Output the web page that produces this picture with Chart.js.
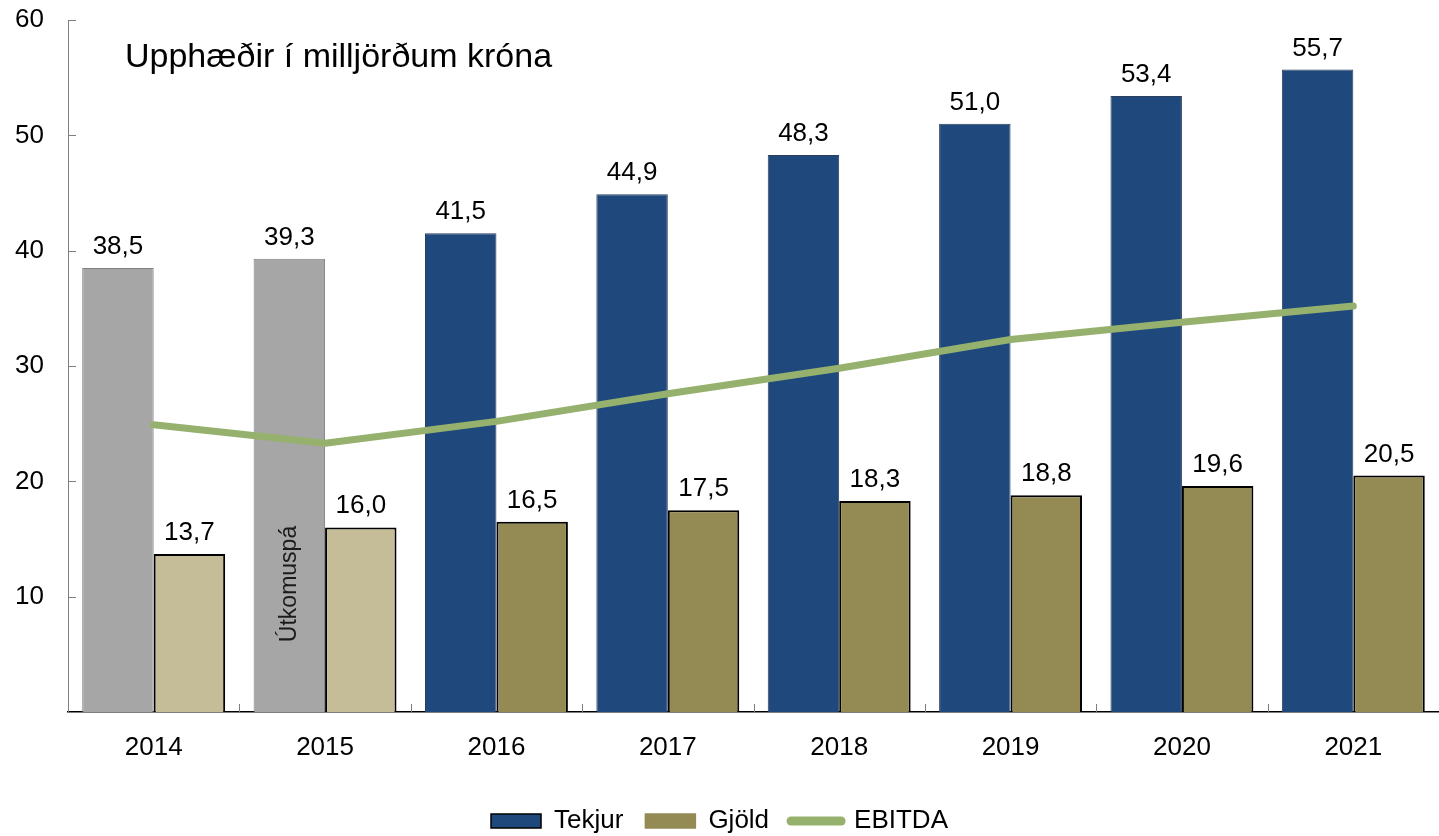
<!DOCTYPE html>
<html lang="is">
<head>
<meta charset="utf-8">
<title>Tekjur, gjöld og EBITDA</title>
<script src="https://cdn.jsdelivr.net/npm/chart.js@4.4.1/dist/chart.umd.min.js"></script>
<style>
  html, body { margin: 0; padding: 0; background: #fff; }
  canvas { display: block; }
</style>
</head>
<body>
<canvas id="chart" width="1439" height="836"></canvas>
<script>
/* ── Gögn (lesin af myndinni) ─────────────────────────────── */
const years  = ['2014', '2015', '2016', '2017', '2018', '2019', '2020', '2021'];
const tekjur = [38.5, 39.3, 41.5, 44.9, 48.3, 51.0, 53.4, 55.7];
const gjold  = [13.7, 16.0, 16.5, 17.5, 18.3, 18.8, 19.6, 20.5];
const ebitda = [24.9, 23.3, 25.2, 27.6, 29.8, 32.3, 33.8, 35.2];
const yTicks = [10, 20, 30, 40, 50, 60];
const pastYears = ['2014', '2015'];   // raun / útkomuspá, gráir litir

const FONT = "'Liberation Sans', Arial, sans-serif";

// ── Litir ───────────────────────────────────────────────────
const BLUE = '#1F497D', OLIVE = '#948A54', GREY = '#A6A6A6', BEIGE = '#C4BD97', GREEN = '#95B16D';
const isPast = y => pastYears.includes(y);
const tekjurFill   = years.map(y => isPast(y) ? GREY : BLUE);
const tekjurBorder = years.map(y => isPast(y) ? '#7F7F7F' : '#2B3F5C');
const gjoldFill    = years.map(y => isPast(y) ? BEIGE : OLIVE);

const fmt = v => v.toFixed(1).replace('.', ',');

// ── Aukateikning: gildi, fyrirsögn, merki á ásum ────────────
const extras = {
  id: 'extras',
  afterLayout(chart) {
    // færa skýringar aðeins neðar
    if (chart.legend) { chart.legend.top += 10; chart.legend.bottom += 10; }
  },
  afterDatasetsDraw(chart) {
    const { ctx, chartArea, scales: { x, y } } = chart;
    ctx.save();
    ctx.fillStyle = '#000';
    ctx.textAlign = 'center';
    ctx.textBaseline = 'alphabetic';
    ctx.font = `26px ${FONT}`;
    [0, 1].forEach(di => {
      const ds = chart.data.datasets[di];
      chart.getDatasetMeta(di).data.forEach((bar, i) => {
        ctx.fillText(fmt(ds.data[i]), bar.x, bar.y - 14);
      });
    });

    // fyrirsögn
    ctx.textAlign = 'left';
    ctx.font = `34px ${FONT}`;
    ctx.fillText('Upphæðir í milljörðum króna', chartArea.left + 57, chartArea.top + 47);

    // útkomuspá á 2015 súlunni
    const b15 = chart.getDatasetMeta(0).data[years.indexOf('2015')];
    ctx.save();
    ctx.translate(b15.x, y.getPixelForValue(11.1));
    ctx.rotate(-Math.PI / 2);
    ctx.textAlign = 'center';
    ctx.textBaseline = 'middle';
    ctx.font = `23px ${FONT}`;
    ctx.fillStyle = '#1a1a1a';
    ctx.fillText('Útkomuspá', 0, 0);
    ctx.restore();

    // merki á ásum (inn á við)
    ctx.strokeStyle = '#7F7F7F';
    ctx.lineWidth = 1;
    ctx.beginPath();
    yTicks.forEach(v => {
      const py = Math.round(y.getPixelForValue(v)) + 0.5;
      ctx.moveTo(chartArea.left, py);
      ctx.lineTo(chartArea.left + 8, py);
    });
    const step = (x.getPixelForValue(1) - x.getPixelForValue(0));
    for (let i = 1; i < years.length; i++) {
      const px = Math.round(x.getPixelForValue(i) - step / 2) + 0.5;
      ctx.moveTo(px, chartArea.bottom);
      ctx.lineTo(px, chartArea.bottom - 8);
    }
    ctx.stroke();
    ctx.restore();
  }
};

const legendFill = { Tekjur: BLUE, Gjöld: OLIVE };

new Chart(document.getElementById('chart'), {
  type: 'bar',
  data: {
    labels: years,
    datasets: [
      {
        label: 'Tekjur',
        data: tekjur,
        backgroundColor: tekjurFill,
        borderColor: tekjurBorder,
        borderWidth: 1,
        order: 1,
      },
      {
        label: 'Gjöld',
        data: gjold,
        backgroundColor: gjoldFill,
        borderColor: '#000',
        borderWidth: 2,
        order: 1,
      },
      {
        type: 'line',
        label: 'EBITDA',
        data: ebitda,
        borderColor: GREEN,
        backgroundColor: GREEN,
        borderWidth: 7,
        borderCapStyle: 'round',
        borderJoinStyle: 'round',
        pointRadius: 0,
        tension: 0,
        order: 0,
      },
    ],
  },
  options: {
    responsive: false,
    animation: false,
    devicePixelRatio: 1,
    layout: { padding: { top: 20, left: 0, right: 0, bottom: 2 } },
    datasets: { bar: { categoryPercentage: 0.834, barPercentage: 1 } },
    plugins: {
      tooltip: { enabled: false },
      legend: {
        position: 'bottom',
        labels: {
          usePointStyle: true,
          pointStyleWidth: 50,
          boxHeight: 14,
          padding: 22,
          color: '#000',
          font: { family: FONT, size: 26 },
          sort: (a, b) => a.datasetIndex - b.datasetIndex,
          generateLabels(chart) {
            const items = Chart.defaults.plugins.legend.labels.generateLabels(chart);
            items.forEach(it => {
              if (legendFill[it.text]) {
                it.pointStyle = 'rect';
                it.fillStyle = legendFill[it.text];
                it.strokeStyle = it.text === 'Tekjur' ? '#000' : OLIVE;
                it.lineWidth = 1.5;
              } else {
                it.pointStyle = 'line';
                it.strokeStyle = GREEN;
                it.lineWidth = 9;
                it.lineCap = 'round';
              }
            });
            return items;
          },
        },
      },
    },
    scales: {
      x: {
        grid: { display: false },
        border: { color: '#000', width: 1.5 },
        ticks: { color: '#000', padding: 12, font: { family: FONT, size: 26 } },
        afterFit: s => { s.height = 64; s.paddingLeft = 0; s.paddingRight = 0; },
      },
      y: {
        min: 0,
        max: 60,
        grid: { display: false, drawTicks: false },
        border: { color: '#7F7F7F', width: 1 },
        ticks: {
          stepSize: 10,
          padding: 24,
          color: '#000',
          font: { family: FONT, size: 26 },
          callback: v => (v === 0 ? '' : v),
        },
        afterFit: s => { s.width = 68; s.paddingTop = 0; s.paddingBottom = 0; },
      },
    },
  },
  plugins: [extras],
});
</script>
</body>
</html>
